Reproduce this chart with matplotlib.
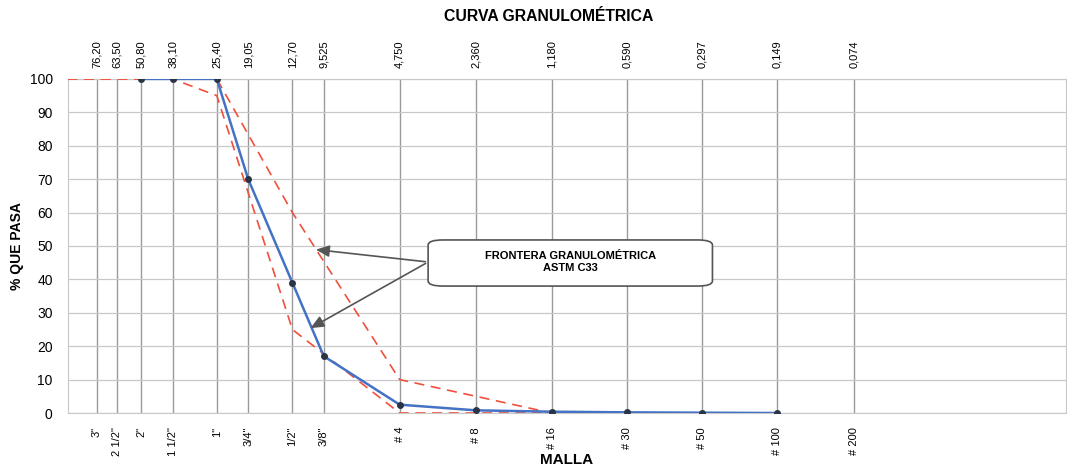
"""
curva granulometrica
"""
import matplotlib
matplotlib.use("Agg")
import matplotlib.pyplot as plt
from matplotlib.patches import FancyBboxPatch

plt.rcParams["font.family"] = ["Liberation Sans", "DejaVu Sans"]

# sieve sizes (mm) and names
tamiz_mm = [76.2, 63.5, 50.8, 38.1, 25.4, 19.05, 12.7, 9.525, 4.75, 2.36, 1.18, 0.59, 0.297, 0.149, 0.074]
tamiz_txt = ["76,20", "63,50", "50,80", "38,10", "25,40", "19,05", "12,70", "9,525",
             "4,750", "2,360", "1,180", "0,590", "0,297", "0,149", "0,074"]
malla = ['3"', '2 1/2"', '2"', '1 1/2"', '1"', '3/4"', '1/2"', '3/8"',
         "# 4", "# 8", "# 16", "# 30", "# 50", "# 100", "# 200"]

# sample curve
muestra_mm = [50.8, 38.1, 25.4, 19.05, 12.7, 9.525, 4.75, 2.36, 1.18, 0.59, 0.297, 0.149]
muestra_pasa = [100, 100, 100, 70, 39, 17, 2.5, 0.8, 0.4, 0.2, 0.1, 0]

# ASTM C33 limits
lim_mm = [100, 76.2, 63.5, 50.8, 38.1, 25.4, 12.7, 4.75, 2.36, 1.18, 0.59, 0.297, 0.149]
lim_sup = [100, 100, 100, 100, 100, 100, 60, 10, 5, 0, 0, 0, 0]
lim_inf = [100, 100, 100, 100, 100, 95, 25, 0, 0, 0, 0, 0, 0]

fig = plt.figure(figsize=(10.67, 4.67), dpi=100)
ax = fig.add_axes([0.0637, 0.1156, 0.935, 0.7154])

ax.plot(lim_mm, lim_sup, color="#F0503C", lw=1.2, ls=(0, (6, 4)), zorder=3)
ax.plot(lim_mm, lim_inf, color="#F0503C", lw=1.2, ls=(0, (6, 4)), zorder=3)
ax.plot(muestra_mm, muestra_pasa, color="#4472C4", lw=1.8, marker="o", ms=4,
        mfc="#2B3445", mec="#2B3445", zorder=4)

ax.set_xscale("log")
ax.set_xlim(99.4, 0.0106)
ax.set_ylim(0, 100)
ax.set_yticks(range(0, 101, 10))
ax.set_xticks(tamiz_mm)
ax.set_xticklabels(malla, rotation=90, fontsize=8)
ax.xaxis.set_minor_locator(plt.NullLocator())
ax.tick_params(axis="both", length=0, pad=10)
ax.tick_params(axis="y", labelsize=10, pad=11)
ax.grid(axis="x", color="#9A9A9A", lw=1.0)
ax.grid(axis="y", color="#C8C8C8", lw=0.9)
for s in ax.spines.values():
    s.set_color("#C8C8C8")

top = ax.twiny()
top.set_xscale("log")
top.set_xlim(ax.get_xlim())
top.set_xticks(tamiz_mm)
top.set_xticklabels(tamiz_txt, rotation=90, fontsize=8)
top.xaxis.set_minor_locator(plt.NullLocator())
top.tick_params(axis="x", length=0, pad=8)
for s in top.spines.values():
    s.set_visible(False)

ax.set_ylabel("% QUE PASA", fontsize=10, fontweight="bold", labelpad=4)
ax.set_xlabel("MALLA", fontsize=11, fontweight="bold", labelpad=-2)
fig.text(0.514, 0.965, "CURVA GRANULOMÉTRICA", ha="center", va="center",
         fontsize=11.3, fontweight="bold")

# annotation box
box = FancyBboxPatch((0.361, 0.380), 0.285, 0.138, boxstyle="round,pad=0,rounding_size=0.015",
                     transform=ax.transAxes, fc="white", ec="#555555", lw=1.2, zorder=6)
ax.add_patch(box)
ax.text(0.5035, 0.452, "FRONTERA GRANULOMÉTRICA\nASTM C33", transform=ax.transAxes,
        ha="center", va="center", fontsize=8, fontweight="bold", zorder=7)
for tip in [(10.5, 49), (11.0, 25)]:
    ax.annotate("", xy=tip, xycoords="data", xytext=(0.361, 0.452), textcoords="axes fraction",
                arrowprops=dict(arrowstyle="-|>,head_length=0.8,head_width=0.35",
                                color="#555555", lw=1.2), zorder=5)

fig.savefig("out.png", dpi=100)
